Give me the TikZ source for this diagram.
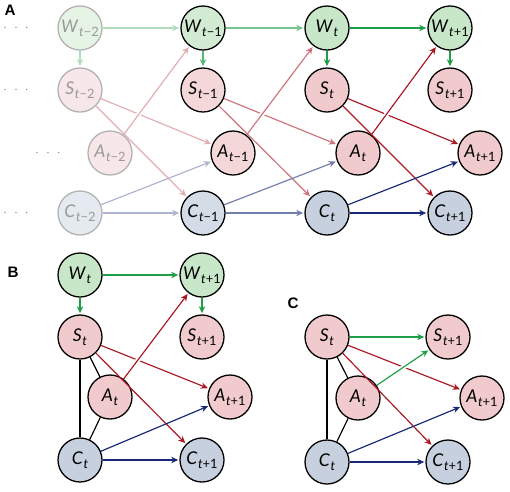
\documentclass[tikz,border=0pt]{standalone}
\usepackage{fontspec}
\setmainfont{Lato}
\newfontfamily\panelfont{Liberation Sans}
\usetikzlibrary{arrows.meta}
\definecolor{wfill}{RGB}{200,230,200}
\definecolor{sfill}{RGB}{240,202,204}
\definecolor{cfill}{RGB}{198,208,223}
\definecolor{wline}{RGB}{30,158,70}
\definecolor{sline}{RGB}{172,24,36}
\definecolor{cline}{RGB}{24,40,118}
\newcommand\rv[2]{\textit{#1}\kern.5pt\raisebox{-.45ex}{\fontsize{11}{11}\selectfont\textit{t}#2}}

\begin{document}
\begin{tikzpicture}[x=0.03cm,y=-0.03cm,
  var/.style={circle,draw,line width=1.1pt,minimum size=1.32cm,inner sep=0pt,
    font=\fontsize{15}{17}\selectfont},
  ghost/.style={draw=black!30,text=black!40},
  arr/.style={line width=1pt,-{Stealth[length=6pt,width=5.5pt]},shorten >=1pt},
  over/.style={preaction={draw=white,line width=4pt,-,shorten <=7pt,shorten >=10pt}},
  link/.style={line width=1pt},
  dots/.style={text=black!45,inner sep=0pt,font=\fontsize{12}{12}\selectfont},
  panel/.style={inner sep=1pt,font=\panelfont\bfseries\fontsize{13}{15}\selectfont}]
\useasboundingbox (0,0) rectangle (510,491);
% panel A
\node[panel] (la) at (10,10) {A};
\node[dots] (d1) at (16,28) {$\cdot$\hspace{6pt}$\cdot$\hspace{6pt}$\cdot$};
\node[dots] (d2) at (16,90) {$\cdot$\hspace{6pt}$\cdot$\hspace{6pt}$\cdot$};
\node[dots] (d3) at (48,153) {$\cdot$\hspace{6pt}$\cdot$\hspace{6pt}$\cdot$};
\node[dots] (d4) at (16,213) {$\cdot$\hspace{6pt}$\cdot$\hspace{6pt}$\cdot$};
%     column t-2
\node[var,ghost,fill=wfill!45] (w2) at (80,28) {\rv{W}{−2}};
\node[var,ghost,fill=sfill!45] (s2) at (80,90) {\rv{S}{−2}};
\node[var,ghost,fill=sfill!45] (a2) at (110,153) {\rv{A}{−2}};
\node[var,ghost,fill=cfill!45] (c2) at (80,213) {\rv{C}{−2}};
%     column t-1
\node[var,fill=wfill!80] (w1) at (203,28) {\rv{W}{−1}};
\node[var,fill=sfill!75] (s1) at (203,90) {\rv{S}{−1}};
\node[var,fill=sfill!75] (a1) at (233,153) {\rv{A}{−1}};
\node[var,fill=cfill!75] (c1) at (203,213) {\rv{C}{−1}};
%     column t
\node[var,fill=wfill] (w0) at (327,28) {\rv{W}{}};
\node[var,fill=sfill] (s0) at (327,90) {\rv{S}{}};
\node[var,fill=sfill] (a0) at (358,153) {\rv{A}{}};
\node[var,fill=cfill] (c0) at (327,213) {\rv{C}{}};
%     column t+1
\node[var,fill=wfill] (wp) at (450,28) {\rv{W}{+1}};
\node[var,fill=sfill] (sp) at (450,90) {\rv{S}{+1}};
\node[var,fill=sfill] (ap) at (480,153) {\rv{A}{+1}};
\node[var,fill=cfill] (cp) at (450,213) {\rv{C}{+1}};
%     green
\draw[arr,wline!35] (w2) -- (w1);
\draw[arr,wline!60] (w1) -- (w0);
\draw[arr,wline] (w0) -- (wp);
\draw[arr,wline!35] (w2) -- (s2);
\draw[arr,wline!75] (w1) -- (s1);
\draw[arr,wline] (w0) -- (s0);
\draw[arr,wline] (wp) -- (sp);
%     red
\draw[arr,sline!35] (s2) -- (a1);
\draw[arr,sline!35] (s2) -- (c1);
\draw[arr,sline!60] (s1) -- (a0);
\draw[arr,sline!60] (s1) -- (c0);
\draw[arr,sline] (s0) -- (ap);
\draw[arr,sline] (s0) -- (cp);
%     blue
\draw[arr,cline!35] (c2) -- (a1);
\draw[arr,cline!35] (c2) -- (c1);
\draw[arr,cline!60] (c1) -- (a0);
\draw[arr,cline!60] (c1) -- (c0);
\draw[arr,cline] (c0) -- (ap);
\draw[arr,cline] (c0) -- (cp);
%     actions on top
\draw[arr,over,sline!35] (a2) -- (w1);
\draw[arr,over,sline!60] (a1) -- (w0);
\draw[arr,over,sline] (a0) -- (wp);
% panel B
\node[panel] (lb) at (13,272) {B};
\node[var,fill=wfill] (bw) at (80,275) {\rv{W}{}};
\node[var,fill=sfill] (bs) at (80,337) {\rv{S}{}};
\node[var,fill=sfill] (ba) at (110,397) {\rv{A}{}};
\node[var,fill=cfill] (bc) at (80,460) {\rv{C}{}};
\node[var,fill=wfill] (bwp) at (202,275) {\rv{W}{+1}};
\node[var,fill=sfill] (bsp) at (202,337) {\rv{S}{+1}};
\node[var,fill=sfill] (bap) at (230,397) {\rv{A}{+1}};
\node[var,fill=cfill] (bcp) at (202,460) {\rv{C}{+1}};
\draw[link] (bs) -- (bc);
\draw[link] (bs) -- (ba);
\draw[link] (ba) -- (bc);
\draw[arr,wline] (bw) -- (bwp);
\draw[arr,wline] (bw) -- (bs);
\draw[arr,wline] (bwp) -- (bsp);
\draw[arr,sline] (bs) -- (bap);
\draw[arr,sline] (bs) -- (bcp);
\draw[arr,cline] (bc) -- (bap);
\draw[arr,cline] (bc) -- (bcp);
\draw[arr,over,sline] (ba) -- (bwp);
% panel C
\node[panel] (lc) at (293,303) {C};
\node[var,fill=sfill] (cs) at (327,337) {\rv{S}{}};
\node[var,fill=sfill] (ca) at (358,398) {\rv{A}{}};
\node[var,fill=cfill] (cc) at (327,462) {\rv{C}{}};
\node[var,fill=sfill] (csp) at (448,337) {\rv{S}{+1}};
\node[var,fill=sfill] (cap) at (482,398) {\rv{A}{+1}};
\node[var,fill=cfill] (ccp) at (448,462) {\rv{C}{+1}};
\draw[link] (cs) -- (cc);
\draw[link] (cs) -- (ca);
\draw[link] (ca) -- (cc);
\draw[arr,wline] (cs) -- (csp);
\draw[arr,sline] (cs) -- (cap);
\draw[arr,sline] (cs) -- (ccp);
\draw[arr,cline] (cc) -- (cap);
\draw[arr,cline] (cc) -- (ccp);
\draw[arr,over,wline] (ca) -- (csp);
\end{tikzpicture}
\end{document}
